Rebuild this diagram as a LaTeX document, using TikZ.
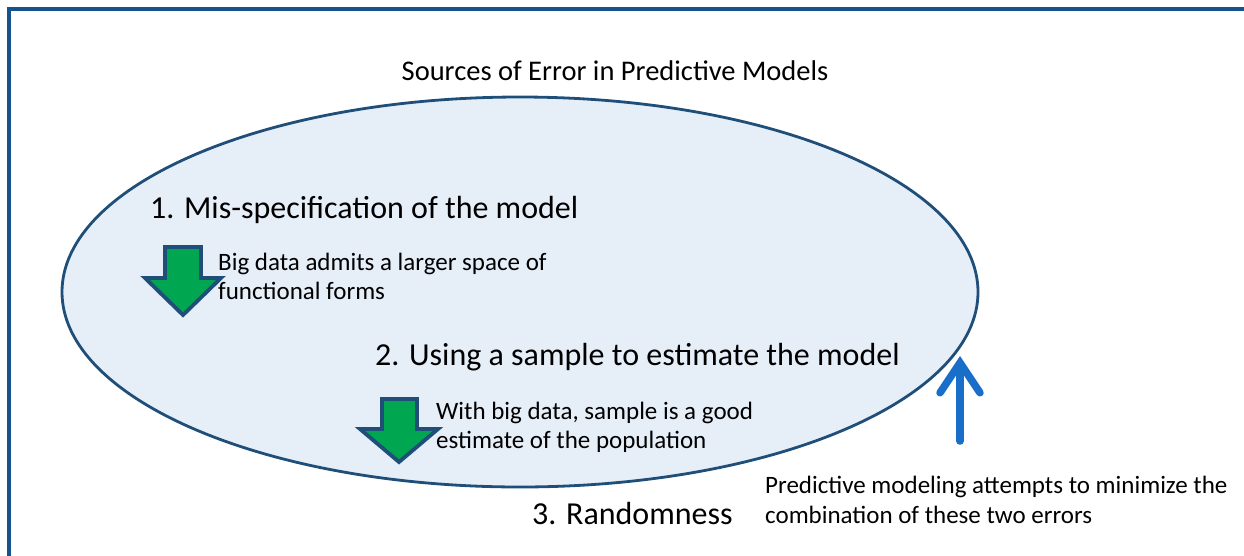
\documentclass[tikz,border=0pt]{standalone}
\usepackage{fontspec}
\setmainfont{Carlito}
\usetikzlibrary{arrows.meta}
\definecolor{frameblue}{RGB}{22,82,140}
\definecolor{ellfill}{RGB}{230,238,248}
\definecolor{ellline}{RGB}{31,78,121}
\definecolor{arrgreen}{RGB}{0,166,80}
\definecolor{arrblue}{RGB}{24,110,200}
\tikzset{
  heading/.style={font=\fontsize{32}{36}\selectfont, inner sep=0pt, anchor=base west},
  note/.style={font=\fontsize{25}{30}\selectfont, inner sep=0pt, anchor=base west, align=left},
  downarrow/.style={fill=arrgreen, draw=ellline, line width=3.8pt, line join=miter},
}
\begin{document}
\begin{tikzpicture}[x=1pt,y=-1pt]
\useasboundingbox (0,0) rectangle (1244,555);
% frame
\draw[frameblue, line width=3.5pt] (1244,9) -- (9,9) -- (9,556);
% ellipse
\draw[fill=ellfill, draw=ellline, line width=2.8pt] (520,292) ellipse [x radius=458, y radius=195];
% title
\node[font=\fontsize{28.5}{32}\selectfont, inner sep=0pt, anchor=base] (title) at (615,80) {Sources of Error in Predictive Models};
% headings
\node[heading] (h1) at (150,218) {1. Mis-specification of the model};
\node[heading] (h2) at (375,365) {2. Using a sample to estimate the model};
\node[heading] (h3) at (532,524) {3. Randomness};
% notes
\node[note] (n1) at (218,270) {Big data admits a larger space of};
\node[note] (n1b) at (218,299) {functional forms};
\node[note] (n2) at (436,419) {With big data, sample is a good};
\node[note] (n2b) at (436,448) {estimate of the population};
\node[note] (n3) at (765,493) {Predictive modeling attempts to minimize the};
\node[note] (n3b) at (765,523) {combination of these two errors};
% green arrows
\draw[downarrow] (165,247) -- (201,247) -- (201,278) -- (221,278) -- (183,315) -- (145,278) -- (165,278) -- cycle;
\draw[downarrow] (382,399) -- (417,399) -- (417,429) -- (438,429) -- (399,462) -- (360,429) -- (382,429) -- cycle;
% blue arrow
\coordinate (bstart) at (960,441);
\coordinate (bend) at (960,356);
\draw[arrblue, line width=7.5pt, line cap=round, -{Straight Barb[length=30pt, width=40pt, line cap=round]}] (bstart) -- (bend);
\end{tikzpicture}
\end{document}
